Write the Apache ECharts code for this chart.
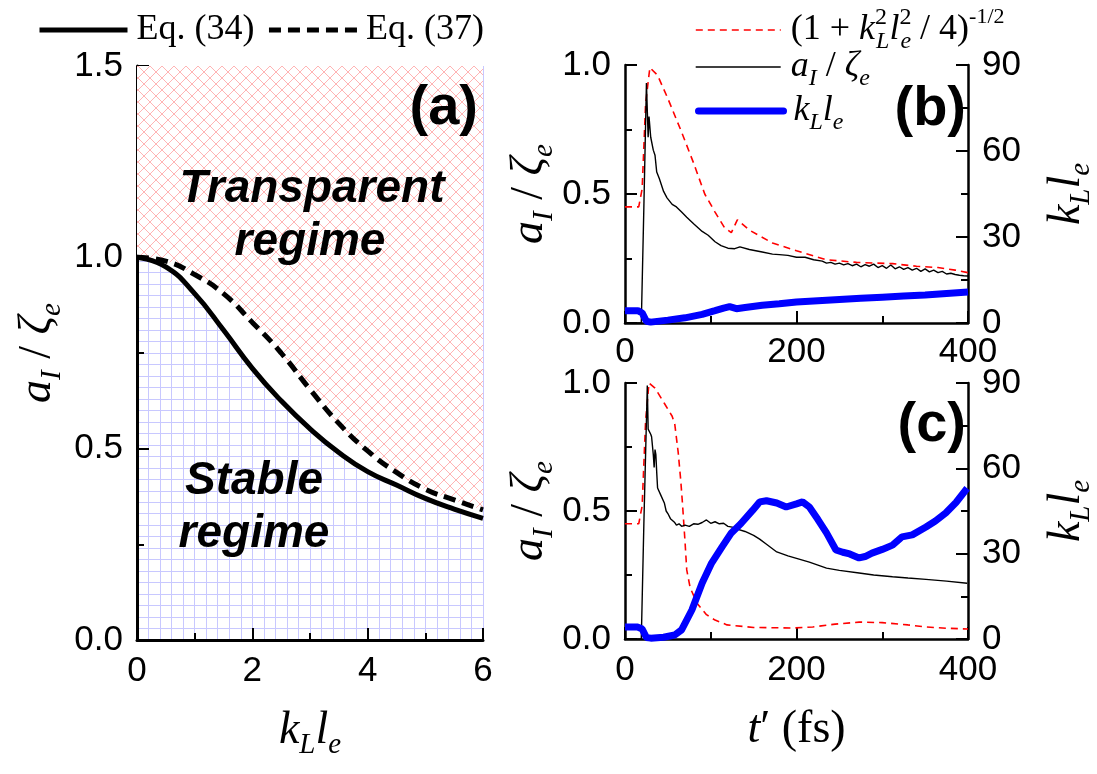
<!DOCTYPE html>
<html><head><meta charset="utf-8">
<script src="https://cdn.jsdelivr.net/npm/echarts@6/dist/echarts.min.js"></script>
<style>html,body{margin:0;padding:0;background:#fff}#c{width:1097px;height:774px}</style>
</head><body><div id="c"></div>
<script>
// ---------- Panel (a) data ----------
const kle  = [0, 0.5, 1, 1.5, 2, 2.5, 3, 3.5, 4, 4.5, 5, 5.5, 6];
const eq34 = [1.0, 0.975, 0.905, 0.81, 0.71, 0.625, 0.552, 0.49, 0.44, 0.405, 0.37, 0.342, 0.318];
const eq37 = [1.0, 0.99, 0.955, 0.905, 0.83, 0.75, 0.655, 0.566, 0.494, 0.438, 0.394, 0.366, 0.34];
const aXTicks = [0, 2, 4, 6];
const aYTicks = [0.0, 0.5, 1.0, 1.5];

// ---------- Panel (b) data ----------
const tB_ratio = [0, 16, 20, 24, 29, 38, 50, 66, 80, 93, 105, 116, 124, 131, 145, 172, 200, 235, 270, 312, 340, 365, 385, 400];
const vB_ratio = [0.45, 0.45, 0.52, 0.85, 0.99, 0.96, 0.87, 0.74, 0.62, 0.50, 0.43, 0.37, 0.35, 0.40, 0.36, 0.31, 0.28, 0.245, 0.235, 0.23, 0.22, 0.215, 0.205, 0.195];
const tB_aI = [0, 19, 22, 25, 27, 28, 30, 33, 35, 37, 40, 45, 49, 55, 60, 66, 72, 80, 90, 97, 105, 112, 120, 128, 134, 145, 160, 172, 180, 190, 200, 210, 220, 230, 235, 240, 245, 250, 255, 260, 265, 270, 275, 280, 285, 290, 295, 300, 305, 310, 315, 320, 325, 330, 335, 340, 345, 350, 355, 360, 365, 370, 375, 380, 385, 390, 395, 400];
const vB_aI = [0, 0, 0.45, 0.93, 0.72, 0.80, 0.72, 0.67, 0.65, 0.585, 0.56, 0.51, 0.485, 0.46, 0.45, 0.43, 0.41, 0.385, 0.355, 0.34, 0.315, 0.30, 0.29, 0.288, 0.295, 0.285, 0.275, 0.267, 0.265, 0.262, 0.255, 0.255, 0.245, 0.24, 0.232, 0.235, 0.228, 0.232, 0.225, 0.23, 0.222, 0.228, 0.218, 0.226, 0.22, 0.228, 0.215, 0.222, 0.212, 0.225, 0.21, 0.218, 0.208, 0.215, 0.205, 0.212, 0.2, 0.21, 0.198, 0.205, 0.195, 0.2, 0.19, 0.193, 0.188, 0.185, 0.183, 0.182];
const tB_kl = [0, 15, 20, 25, 30, 50, 70, 90, 105, 115, 122, 130, 140, 160, 180, 200, 225, 250, 275, 300, 325, 350, 375, 400];
const vB_kl = [4.3, 4.3, 3.5, 0.6, 0.3, 1.0, 1.8, 3.0, 4.3, 5.2, 5.7, 5.0, 5.4, 6.2, 6.7, 7.3, 7.8, 8.2, 8.6, 9.0, 9.4, 9.8, 10.3, 10.8];

// ---------- Panel (c) data ----------
const tC_ratio = [0, 16, 20, 24, 28, 35, 46, 55, 58, 62, 65, 67, 70, 72, 76, 84, 95, 105, 119, 150, 196, 219, 245, 273, 300, 330, 351, 375, 400];
const vC_ratio = [0.45, 0.45, 0.52, 0.85, 1.0, 0.98, 0.92, 0.87, 0.84, 0.73, 0.62, 0.53, 0.38, 0.27, 0.2, 0.14, 0.095, 0.074, 0.055, 0.045, 0.043, 0.047, 0.058, 0.066, 0.064, 0.055, 0.047, 0.042, 0.039];
const tC_aI = [0, 19, 22, 26, 27, 30, 31, 33, 34, 35, 36, 37, 38, 42, 46, 48, 50, 53, 55, 58, 60, 63, 66, 70, 75, 80, 85, 90, 95, 100, 105, 110, 115, 120, 125, 130, 140, 150, 157, 165, 177, 190, 200, 215, 235, 250, 273, 290, 312, 330, 351, 375, 399];
const vC_aI = [0, 0, 0.45, 0.99, 0.82, 0.80, 0.79, 0.72, 0.67, 0.74, 0.72, 0.65, 0.59, 0.56, 0.53, 0.50, 0.49, 0.47, 0.475, 0.455, 0.445, 0.45, 0.44, 0.445, 0.44, 0.45, 0.448, 0.455, 0.465, 0.452, 0.458, 0.45, 0.452, 0.44, 0.437, 0.43, 0.42, 0.405, 0.39, 0.37, 0.34, 0.325, 0.315, 0.30, 0.277, 0.268, 0.258, 0.25, 0.243, 0.238, 0.233, 0.226, 0.218];
const tC_kl = [0, 15, 20, 25, 30, 45, 58, 66, 78, 90, 101, 113, 124, 135, 149, 157, 165, 177, 188, 200, 207, 215, 225, 235, 246, 254, 262, 273, 280, 288, 300, 312, 323, 335, 351, 362, 374, 386, 399];
const vC_kl = [4.2, 4.2, 3.5, 0.5, 0.3, 0.6, 1.4, 3.2, 10.2, 19.7, 26.7, 32.3, 37.3, 40.5, 45.3, 48.2, 48.6, 47.8, 46.4, 47.5, 48.2, 46.4, 42, 37.3, 31.3, 30.5, 29.9, 28.5, 29, 30.2, 31.5, 33, 35.9, 36.6, 39.4, 41.5, 44.3, 48, 53];

const tTicks = [0, 200, 400];
const leftTicks = [0.0, 0.5, 1.0];
const rightTicks = [0, 30, 60, 90];

// ---------- helpers ----------
const zip = (xs, ys) => xs.map((x, i) => [x, ys[i]]);
const SANS = 'Liberation Sans';
const SERIF = 'Liberation Serif';

function hatchPattern() {
  const c = document.createElement('canvas');
  c.width = 12; c.height = 12;
  const g = c.getContext('2d');
  g.fillStyle = '#ffffff'; g.fillRect(0, 0, 12, 12);
  g.strokeStyle = '#ffb4b4'; g.lineWidth = 1;
  g.beginPath();
  g.moveTo(0, 0); g.lineTo(12, 12);
  g.moveTo(12, 0); g.lineTo(0, 12);
  g.stroke();
  return c;
}

const tickLabel = {fontFamily: SANS, fontSize: 35, color: '#000'};
const titleRich = {
  i: {fontFamily: SERIF, fontStyle: 'italic', fontSize: 46, lineHeight: 58, color: '#000'},
  r: {fontFamily: SERIF, fontSize: 46, lineHeight: 58, color: '#000'},
  sb: {fontFamily: SERIF, fontStyle: 'italic', fontSize: 29, lineHeight: 29, verticalAlign: 'bottom', color: '#000'}
};
const legRich = {
  r: {fontFamily: SERIF, fontSize: 36, lineHeight: 48, color: '#000'},
  i: {fontFamily: SERIF, fontStyle: 'italic', fontSize: 36, lineHeight: 48, color: '#000'},
  sb: {fontFamily: SERIF, fontStyle: 'italic', fontSize: 24, lineHeight: 24, verticalAlign: 'bottom', color: '#000'},
  sp: {fontFamily: SERIF, fontSize: 24, lineHeight: 24, verticalAlign: 'top', width: 1, color: '#000'},
  sp2: {fontFamily: SERIF, fontSize: 22, lineHeight: 22, verticalAlign: 'top', color: '#000'}
};
const LEG_LABELS = {
  ratio: '{r|(1 + }{i|k}{sp|2}{sb|L}{i|l}{sp|2}{sb|e}{r| / 4)}{sp2|-1/2}',
  aI: '{i|a}{sb|I}{r| / }{i|ζ}{sb|e}',
  kl: '{i|k}{sb|L}{i|l}{sb|e}'
};
const AI_NAME = '{i|a}{sb|I}{r| / }{i|ζ}{sb|e}';
const KL_NAME = '{i|k}{sb|L}{i|l}{sb|e}';

function mainX(gi, min, max, interval, tickVals, bottomName, margin) {
  return {
    type: 'value', gridIndex: gi, min: min, max: max, interval: interval,
    position: 'bottom',
    axisLine: {show: true, onZero: false, lineStyle: {color: '#000', width: gi === 0 ? 3 : 2.5}},
    axisTick: {show: true, inside: true, length: 12, lineStyle: {color: '#000', width: 2}},
    minorTick: {show: true, splitNumber: 2, length: 7, lineStyle: {color: '#000', width: 2}},
    axisLabel: Object.assign({margin: margin, formatter: v => tickVals.includes(v) ? String(v) : ''}, tickLabel),
    splitLine: {show: false},
    name: bottomName || '', nameLocation: 'middle', nameGap: 62,
    nameTextStyle: {rich: titleRich}
  };
}
function leftY(gi, max, interval, name, gap) {
  return {
    type: 'value', gridIndex: gi, min: 0, max: max, interval: interval, position: 'left',
    axisLine: {show: true, onZero: false, lineStyle: {color: '#000', width: gi === 0 ? 3 : 2.5}},
    axisTick: {show: true, inside: true, length: 12, lineStyle: {color: '#000', width: 2}},
    minorTick: {show: true, splitNumber: 2, length: 7, lineStyle: {color: '#000', width: 2}},
    axisLabel: Object.assign({margin: 14, formatter: v => v.toFixed(1)}, tickLabel),
    splitLine: {show: false},
    name: name, nameLocation: 'middle', nameRotate: 90, nameGap: gap,
    nameTextStyle: {rich: titleRich}
  };
}
function rightY(gi) {
  return {
    type: 'value', gridIndex: gi, min: 0, max: 90, interval: 30, position: 'right',
    axisLine: {show: true, onZero: false, lineStyle: {color: '#000', width: 2.5}},
    axisTick: {show: true, inside: true, length: 12, lineStyle: {color: '#000', width: 2}},
    minorTick: {show: true, splitNumber: 2, length: 7, lineStyle: {color: '#000', width: 2}},
    axisLabel: Object.assign({margin: 14}, tickLabel),
    splitLine: {show: false},
    name: KL_NAME, nameLocation: 'middle', nameRotate: 90, nameGap: 70,
    nameTextStyle: {rich: titleRich}
  };
}

const chart = echarts.init(document.getElementById('c'), null, {renderer: 'canvas'});

const gridA = {left: 137, top: 66, width: 346, height: 574};
const gridB = {left: 625, top: 65, width: 344, height: 258};
const gridC = {left: 625, top: 383, width: 344, height: 256};

function panelSeries(xi, yl, yr, tR, vR, tA, vA, tK, vK) {
  return [
    {name: 'ratio', type: 'line', xAxisIndex: xi, yAxisIndex: yl, data: zip(tR, vR), showSymbol: false, symbol: 'none',
     lineStyle: {color: '#ff0000', width: 1.6, type: [7, 5]}, itemStyle: {color: '#ff0000'}, z: 3},
    {name: 'aI', type: 'line', xAxisIndex: xi, yAxisIndex: yl, data: zip(tA, vA), showSymbol: false, symbol: 'none',
     lineStyle: {color: '#000', width: 1.4}, itemStyle: {color: '#000'}, z: 4},
    {name: 'kl', type: 'line', xAxisIndex: xi, yAxisIndex: yr, data: zip(tK, vK), showSymbol: false, symbol: 'none',
     lineStyle: {color: '#0000ff', width: 7}, itemStyle: {color: '#0000ff'}, z: 5}
  ];
}

const legendCommon = {selectedMode: false, padding: 0, itemStyle: {opacity: 0}};

const option = {
  animation: false,
  backgroundColor: '#fff',
  grid: [gridA, gridB, gridC],
  xAxis: [
    mainX(0, 0, 6, 2, aXTicks, KL_NAME, 14),
    {type: 'value', gridIndex: 0, min: 0, max: 6, interval: 0.2, position: 'top',
     axisLine: {show: false}, axisTick: {show: false}, axisLabel: {show: false},
     splitLine: {show: true, lineStyle: {color: '#c8c8ff', width: 1}}},
    mainX(1, 0, 400, 200, tTicks, '', 12),
    mainX(2, 0, 400, 200, tTicks, '{i|t}{r|′ (fs)}', 14)
  ],
  yAxis: [
    leftY(0, 1.5, 0.5, AI_NAME, 70),
    {type: 'value', gridIndex: 0, min: 0, max: 1.5, interval: 0.03, position: 'right',
     axisLine: {show: false}, axisTick: {show: false}, axisLabel: {show: false},
     splitLine: {show: true, lineStyle: {color: '#c8c8ff', width: 1}}},
    leftY(1, 1, 0.5, AI_NAME, 2),
    rightY(1),
    leftY(2, 1, 0.5, AI_NAME, 2),
    rightY(2)
  ],
  legend: [
    Object.assign({data: ['Eq. (34)', 'Eq. (37)'], left: 37, top: 12, orient: 'horizontal', itemWidth: 88, itemHeight: 20, itemGap: 12,
     lineStyle: {width: 5}, textStyle: {fontFamily: SERIF, fontSize: 36, color: '#000', padding: [0, 0, 0, 4]}}, legendCommon),
    Object.assign({data: ['ratio'], left: 695, top: 6, itemWidth: 85, itemHeight: 14, lineStyle: {width: 1.6},
     formatter: n => LEG_LABELS[n], textStyle: {rich: legRich, padding: [0, 0, 0, 5]}}, legendCommon),
    Object.assign({data: ['aI'], left: 695, top: 49, itemWidth: 85, itemHeight: 14, lineStyle: {width: 1.4},
     formatter: n => LEG_LABELS[n], textStyle: {rich: legRich, padding: [0, 0, 0, 5]}}, legendCommon),
    Object.assign({data: ['kl'], left: 695, top: 93, itemWidth: 85, itemHeight: 14, lineStyle: {width: 7, cap: 'round'},
     formatter: n => LEG_LABELS[n], textStyle: {rich: legRich, padding: [0, 0, 0, 5]}}, legendCommon)
  ],
  series: [
    {name: '_white', type: 'line', xAxisIndex: 0, yAxisIndex: 0, data: zip(kle, eq34), smooth: true, showSymbol: false, symbol: 'none',
     lineStyle: {width: 0, opacity: 0}, areaStyle: {origin: 'end', color: '#ffffff', opacity: 1}, z: 1, silent: true},
    {name: '_hatch', type: 'line', xAxisIndex: 0, yAxisIndex: 0, data: zip(kle, eq37), smooth: true, showSymbol: false, symbol: 'none',
     lineStyle: {width: 0, opacity: 0}, areaStyle: {origin: 'end', color: {image: hatchPattern(), repeat: 'repeat'}, opacity: 1}, z: 1, silent: true},
    {name: 'Eq. (34)', type: 'line', xAxisIndex: 0, yAxisIndex: 0, data: zip(kle, eq34), smooth: true, showSymbol: false, symbol: 'none',
     lineStyle: {color: '#000', width: 5}, itemStyle: {color: '#000'}, z: 3},
    {name: 'Eq. (37)', type: 'line', xAxisIndex: 0, yAxisIndex: 0, data: zip(kle, eq37), smooth: true, showSymbol: false, symbol: 'none',
     lineStyle: {color: '#000', width: 5, type: [12, 7]}, itemStyle: {color: '#000'}, z: 3}
  ].concat(
    panelSeries(2, 2, 3, tB_ratio, vB_ratio, tB_aI, vB_aI, tB_kl, vB_kl),
    panelSeries(3, 4, 5, tC_ratio, vC_ratio, tC_aI, vC_aI, tC_kl, vC_kl)
  ),
  graphic: [
    {type: 'text', x: 478, y: 109, z: 100, style: {text: '(a)', fontFamily: SANS, fontWeight: 'bold', fontSize: 56, fill: '#000', align: 'right', verticalAlign: 'middle'}},
    {type: 'text', x: 966, y: 110, z: 100, style: {text: '(b)', fontFamily: SANS, fontWeight: 'bold', fontSize: 56, fill: '#000', align: 'right', verticalAlign: 'middle'}},
    {type: 'text', x: 966, y: 426, z: 100, style: {text: '(c)', fontFamily: SANS, fontWeight: 'bold', fontSize: 56, fill: '#000', align: 'right', verticalAlign: 'middle'}},
    {type: 'text', x: 312, y: 189, z: 100, style: {text: 'Transparent', fontFamily: SANS, fontWeight: 'bold', fontStyle: 'italic', fontSize: 46, fill: '#000', align: 'center', verticalAlign: 'middle'}},
    {type: 'text', x: 310, y: 242, z: 100, style: {text: 'regime', fontFamily: SANS, fontWeight: 'bold', fontStyle: 'italic', fontSize: 46, fill: '#000', align: 'center', verticalAlign: 'middle'}},
    {type: 'text', x: 254, y: 481, z: 100, style: {text: 'Stable', fontFamily: SANS, fontWeight: 'bold', fontStyle: 'italic', fontSize: 46, fill: '#000', align: 'center', verticalAlign: 'middle'}},
    {type: 'text', x: 254, y: 534, z: 100, style: {text: 'regime', fontFamily: SANS, fontWeight: 'bold', fontStyle: 'italic', fontSize: 46, fill: '#000', align: 'center', verticalAlign: 'middle'}}
  ]
};
chart.setOption(option);
</script>
</body></html>
